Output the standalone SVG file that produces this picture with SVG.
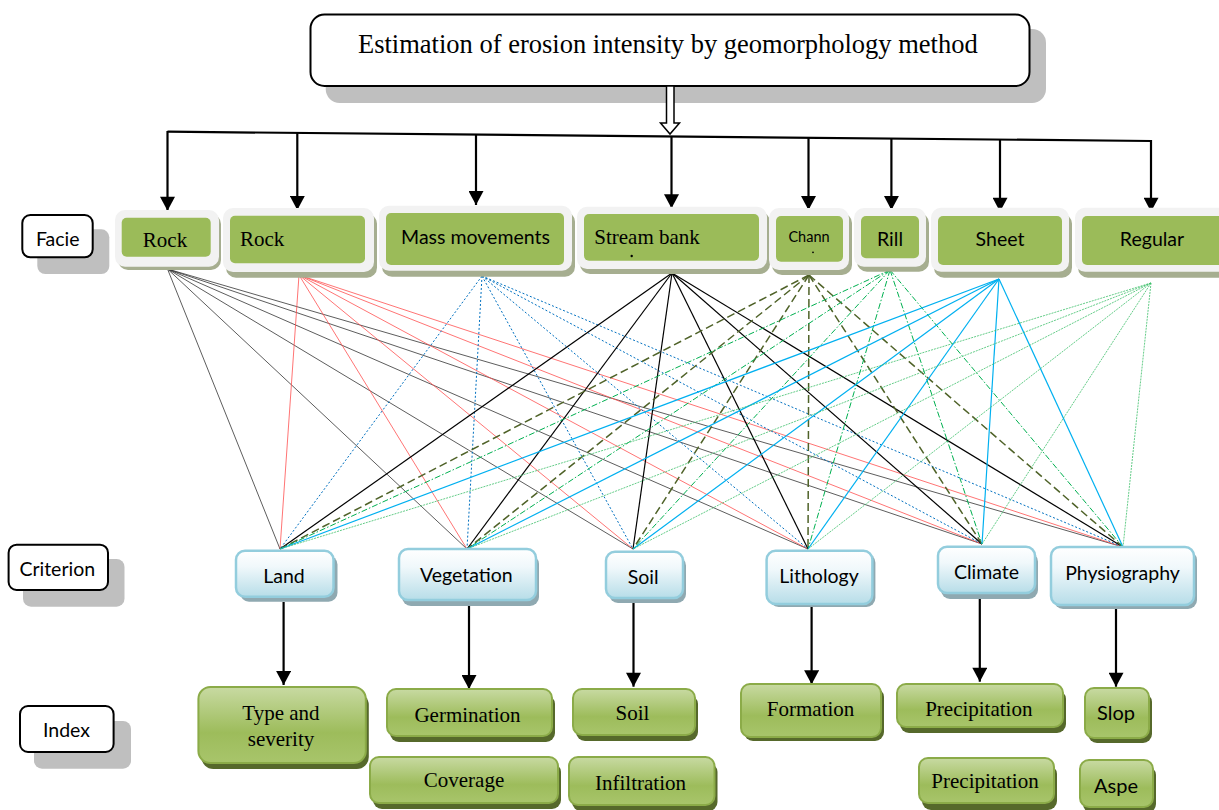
<svg xmlns="http://www.w3.org/2000/svg" width="1219" height="810" viewBox="0 0 1219 810">
<defs>
<linearGradient id="gBlue" x1="0" y1="0" x2="0" y2="1">
<stop offset="0" stop-color="#ffffff"/><stop offset="0.35" stop-color="#f0f8fb"/><stop offset="1" stop-color="#b7dde8"/>
</linearGradient>
<linearGradient id="gGreen" x1="0" y1="0" x2="0" y2="1">
<stop offset="0" stop-color="#c8daa2"/><stop offset="0.6" stop-color="#9dbc5b"/><stop offset="1" stop-color="#a8c56b"/>
</linearGradient>
<marker id="ah" markerWidth="16" markerHeight="15" viewBox="0 0 15 16" refX="15" refY="8" orient="auto" markerUnits="userSpaceOnUse">
<path d="M0,0 L15,8 L0,16 z" fill="#000"/>
</marker>
<style>
.lbl{fill:#fff;stroke:#000;stroke-width:2}
.lsh{fill:#bfbfbf}
.fo{fill:#f2f2f2}
.fsh{fill:#a6ae90}
.fi{fill:#9bbb59}
.cr{fill:url(#gBlue);stroke:#93cddd;stroke-width:2.5}
.csh{fill:#8fa9b1}
.ix{fill:url(#gGreen);stroke:#8bab48;stroke-width:2}
.ish{fill:#56692b}
.serif{font-family:"Liberation Serif","Times New Roman",serif;fill:#000}
.sans{font-family:Lato,"Liberation Sans",sans-serif;fill:#000}
.arr{stroke:#000;stroke-width:2.2;fill:none;marker-end:url(#ah)}
.l1{stroke:#333;stroke-width:0.8}
.l2{stroke:#ff5050;stroke-width:0.8}
.l3{stroke:#0070c0;stroke-width:1;stroke-dasharray:2 2}
.l4{stroke:#000;stroke-width:1.2}
.l5{stroke:#4f6228;stroke-width:1.5;stroke-dasharray:8 4}
.l6{stroke:#00b050;stroke-width:1;stroke-dasharray:6 2 1.5 2}
.l7{stroke:#00b0f0;stroke-width:1.2}
.l8{stroke:#3cbf6a;stroke-width:0.8;stroke-dasharray:2 1}
</style>
</defs>

<!-- Title -->
<g id="title">
<rect x="325.7" y="29" width="720.3" height="74" rx="14" fill="#bfbfbf"/>
<rect x="310.5" y="14.5" width="719" height="71.5" rx="14" fill="#fff" stroke="#000" stroke-width="2"/>
<text x="358" y="52.7" class="serif" font-size="26.5">Estimation of erosion intensity by geomorphology method</text>
</g>

<!-- Row labels -->
<g id="label-facie">
<rect class="lsh" x="37.3" y="229.3" width="72" height="44.7" rx="8"/>
<rect class="lbl" x="22.3" y="215" width="70.4" height="42.3" rx="8"/>
<text class="sans" x="57.7" y="245.7" font-size="19.5" text-anchor="middle">Facie</text>
</g>
<g id="label-criterion">
<rect class="lsh" x="23" y="559" width="101.5" height="47.7" rx="8"/>
<rect class="lbl" x="8.6" y="544.7" width="99.4" height="45.3" rx="8"/>
<text class="sans" x="57.3" y="575.7" font-size="19.5" text-anchor="middle">Criterion</text>
</g>
<g id="label-index">
<rect class="lsh" x="34" y="721" width="97" height="47.7" rx="8"/>
<rect class="lbl" x="20" y="706" width="93.6" height="46" rx="8"/>
<text class="sans" x="66.5" y="737.3" font-size="19.5" text-anchor="middle">Index</text>
</g>

<!-- Connectors -->
<g id="connectors" fill="none">
<path d="M167.5,131.7 L1151,141" stroke="#000" stroke-width="2.2"/>
<path d="M666.5,86 L674,86 L674,123 L679.5,123 L670,134 L660.5,123 L666.5,123 Z" fill="#fff" stroke="#000" stroke-width="1.5"/>
<line class="arr" x1="167.5" y1="131" x2="167.5" y2="210.7"/>
<line class="arr" x1="297.3" y1="132.9" x2="297.3" y2="210"/>
<line class="arr" x1="476" y1="134.6" x2="476" y2="205"/>
<line class="arr" x1="671.5" y1="136.5" x2="671.5" y2="208.3"/>
<line class="arr" x1="808.5" y1="137.8" x2="808.5" y2="210"/>
<line class="arr" x1="891.4" y1="138.5" x2="891.4" y2="210"/>
<line class="arr" x1="1000" y1="139.6" x2="1000" y2="211.7"/>
<line class="arr" x1="1151" y1="140" x2="1151" y2="211.7"/>

<g class="l1">
<line x1="167.5" y1="269" x2="280" y2="549"/><line x1="167.5" y1="269" x2="467" y2="549"/><line x1="167.5" y1="269" x2="633" y2="549"/><line x1="167.5" y1="269" x2="808" y2="549"/><line x1="167.5" y1="269" x2="982" y2="544"/><line x1="167.5" y1="269" x2="1123" y2="547"/>
</g>
<g class="l2">
<line x1="299" y1="275" x2="280" y2="549"/><line x1="299" y1="275" x2="467" y2="549"/><line x1="299" y1="275" x2="633" y2="549"/><line x1="299" y1="275" x2="808" y2="549"/><line x1="299" y1="275" x2="982" y2="544"/><line x1="299" y1="275" x2="1123" y2="547"/>
</g>
<g class="l3">
<line x1="482" y1="276" x2="280" y2="549"/><line x1="482" y1="276" x2="467" y2="549"/><line x1="482" y1="276" x2="633" y2="549"/><line x1="482" y1="276" x2="808" y2="549"/><line x1="482" y1="276" x2="982" y2="544"/><line x1="482" y1="276" x2="1123" y2="547"/>
</g>
<g class="l4">
<line x1="672" y1="273" x2="280" y2="549"/><line x1="672" y1="273" x2="467" y2="549"/><line x1="672" y1="273" x2="633" y2="549"/><line x1="672" y1="273" x2="808" y2="549"/><line x1="672" y1="273" x2="982" y2="544"/><line x1="672" y1="273" x2="1123" y2="547"/>
</g>
<g class="l5">
<line x1="809" y1="275" x2="280" y2="549"/><line x1="809" y1="275" x2="467" y2="549"/><line x1="809" y1="275" x2="633" y2="549"/><line x1="809" y1="275" x2="808" y2="549"/><line x1="809" y1="275" x2="982" y2="544"/><line x1="809" y1="275" x2="1123" y2="547"/>
</g>
<g class="l6">
<line x1="890" y1="270" x2="280" y2="549"/><line x1="890" y1="270" x2="467" y2="549"/><line x1="890" y1="270" x2="633" y2="549"/><line x1="890" y1="270" x2="808" y2="549"/><line x1="890" y1="270" x2="982" y2="544"/><line x1="890" y1="270" x2="1123" y2="547"/>
</g>
<g class="l7">
<line x1="999" y1="279" x2="280" y2="549"/><line x1="999" y1="279" x2="467" y2="549"/><line x1="999" y1="279" x2="633" y2="549"/><line x1="999" y1="279" x2="808" y2="549"/><line x1="999" y1="279" x2="982" y2="544"/><line x1="999" y1="279" x2="1123" y2="547"/>
</g>
<g class="l8">
<line x1="1151" y1="283" x2="280" y2="549"/><line x1="1151" y1="283" x2="467" y2="549"/><line x1="1151" y1="283" x2="633" y2="549"/><line x1="1151" y1="283" x2="808" y2="549"/><line x1="1151" y1="283" x2="982" y2="544"/><line x1="1151" y1="283" x2="1123" y2="547"/>
</g>

<line class="arr" x1="283.6" y1="602" x2="283.6" y2="685"/>
<line class="arr" x1="469" y1="606" x2="469" y2="689"/>
<line class="arr" x1="633.5" y1="603" x2="633.5" y2="686.7"/>
<line class="arr" x1="811.6" y1="607" x2="811.6" y2="684.3"/>
<line class="arr" x1="979.8" y1="598" x2="979.8" y2="681.7"/>
<line class="arr" x1="1116" y1="604" x2="1116" y2="686.7"/>
</g>

<!-- Facie nodes -->
<g id="facie-rock1">
<rect class="fsh" x="118" y="214" width="103" height="56" rx="10"/>
<rect class="fo" x="115" y="210" width="104" height="56.7" rx="10"/>
<rect class="fi" x="121.7" y="217.7" width="89" height="39" rx="5"/>
<text class="serif" x="165" y="246.7" font-size="21" text-anchor="middle">Rock</text>
</g>
<g id="facie-rock2">
<rect class="fsh" x="226" y="213.7" width="151" height="64" rx="10"/>
<rect class="fo" x="223" y="208" width="151" height="64" rx="10"/>
<rect class="fi" x="230" y="215.7" width="135" height="47.6" rx="5"/>
<text class="serif" x="240" y="245.7" font-size="21">Rock</text>
</g>
<g id="facie-mass">
<rect class="fsh" x="382" y="211.7" width="193" height="65" rx="10"/>
<rect class="fo" x="379" y="205.7" width="193" height="65" rx="10"/>
<rect class="fi" x="386" y="213" width="178" height="52" rx="5"/>
<text class="sans" x="475.5" y="244.3" font-size="19.5" text-anchor="middle">Mass movements</text>
</g>
<g id="facie-stream">
<rect class="fsh" x="580" y="211.7" width="190" height="62.3" rx="10"/>
<rect class="fo" x="577" y="206.7" width="190" height="62.3" rx="10"/>
<rect class="fi" x="584" y="214" width="175" height="46.7" rx="5"/>
<text class="serif" x="594.3" y="244" font-size="21">Stream bank</text>
<circle cx="631.7" cy="256" r="1.2" fill="#000"/>
</g>
<g id="facie-chann">
<rect class="fsh" x="772" y="213" width="80" height="62" rx="10"/>
<rect class="fo" x="769" y="208" width="80" height="62" rx="10"/>
<rect class="fi" x="776" y="216" width="67" height="45.7" rx="5"/>
<text class="sans" x="809" y="241.7" font-size="14.5" text-anchor="middle">Chann</text>
<circle cx="813" cy="252.3" r="0.9" fill="#000"/>
</g>
<g id="facie-rill">
<rect class="fsh" x="857" y="213" width="72" height="58.7" rx="10"/>
<rect class="fo" x="854" y="208" width="72" height="58.7" rx="10"/>
<rect class="fi" x="861" y="216" width="58" height="42.3" rx="5"/>
<text class="sans" x="890" y="245.7" font-size="19.5" text-anchor="middle">Rill</text>
</g>
<g id="facie-sheet">
<rect class="fsh" x="934" y="213.7" width="138" height="64" rx="10"/>
<rect class="fo" x="931" y="207.7" width="138" height="64" rx="10"/>
<rect class="fi" x="938" y="216" width="124" height="49" rx="5"/>
<text class="sans" x="1000" y="245.7" font-size="19.5" text-anchor="middle">Sheet</text>
</g>
<g id="facie-regular">
<rect class="fsh" x="1078" y="213.7" width="160" height="64" rx="10"/>
<rect class="fo" x="1075" y="207.7" width="160" height="64" rx="10"/>
<rect class="fi" x="1082" y="216" width="150" height="49" rx="5"/>
<text class="sans" x="1152" y="245.7" font-size="19.5" text-anchor="middle">Regular</text>
</g>

<!-- Criterion nodes -->
<g id="crit-land">
<rect class="csh" x="240" y="555.7" width="97.5" height="46" rx="9"/>
<rect class="cr" x="236" y="550.7" width="97.5" height="46" rx="9"/>
<text class="sans" x="284" y="582.7" font-size="19.5" text-anchor="middle">Land</text>
</g>
<g id="crit-vegetation">
<rect class="csh" x="402" y="555" width="137" height="51" rx="9"/>
<rect class="cr" x="399" y="549" width="137" height="51" rx="9"/>
<text class="sans" x="466.3" y="581.7" font-size="19.5" text-anchor="middle">Vegetation</text>
</g>
<g id="crit-soil">
<rect class="csh" x="609" y="556.7" width="77" height="46.3" rx="9"/>
<rect class="cr" x="606" y="551.7" width="77" height="46.3" rx="9"/>
<text class="sans" x="643.2" y="584" font-size="19.5" text-anchor="middle">Soil</text>
</g>
<g id="crit-lithology">
<rect class="csh" x="769.6" y="553.7" width="105.8" height="53.3" rx="9"/>
<rect class="cr" x="766.6" y="550.7" width="105.8" height="53.3" rx="9"/>
<text class="sans" x="819" y="583.3" font-size="19.5" text-anchor="middle">Lithology</text>
</g>
<g id="crit-climate">
<rect class="csh" x="941" y="552.7" width="97" height="46.3" rx="9"/>
<rect class="cr" x="938" y="546.7" width="97" height="46.3" rx="9"/>
<text class="sans" x="986.5" y="579.3" font-size="19.5" text-anchor="middle">Climate</text>
</g>
<g id="crit-physiography">
<rect class="csh" x="1054" y="551" width="143" height="58" rx="9"/>
<rect class="cr" x="1051" y="547" width="143" height="58" rx="9"/>
<text class="sans" x="1122.5" y="580" font-size="19.5" text-anchor="middle">Physiography</text>
</g>

<!-- Index nodes -->
<g id="idx-type">
<rect class="ish" x="201.4" y="693" width="167.4" height="76" rx="12"/>
<rect class="ix" x="198.4" y="687" width="167.4" height="76" rx="12"/>
<text class="serif" x="281" y="720" font-size="21" text-anchor="middle">Type and</text>
<text class="serif" x="281" y="746" font-size="21" text-anchor="middle">severity</text>
</g>
<g id="idx-germination">
<rect class="ish" x="390" y="695" width="165" height="47" rx="9"/>
<rect class="ix" x="387" y="689" width="165" height="47" rx="9"/>
<text class="serif" x="467.5" y="721.7" font-size="21" text-anchor="middle">Germination</text>
</g>
<g id="idx-coverage">
<rect class="ish" x="373" y="763" width="188" height="46" rx="9"/>
<rect class="ix" x="370" y="757" width="188" height="46" rx="9"/>
<text class="serif" x="464" y="786.7" font-size="21" text-anchor="middle">Coverage</text>
</g>
<g id="idx-soil">
<rect class="ish" x="576" y="695" width="122" height="46" rx="9"/>
<rect class="ix" x="573" y="689" width="122" height="46" rx="9"/>
<text class="serif" x="632.5" y="720" font-size="21" text-anchor="middle">Soil</text>
</g>
<g id="idx-infiltration">
<rect class="ish" x="572" y="763" width="145.5" height="48" rx="9"/>
<rect class="ix" x="569" y="757" width="145.5" height="48" rx="9"/>
<text class="serif" x="640.5" y="790" font-size="21" text-anchor="middle">Infiltration</text>
</g>
<g id="idx-formation">
<rect class="ish" x="744" y="688" width="140" height="53" rx="9"/>
<rect class="ix" x="741" y="684" width="140" height="53" rx="9"/>
<text class="serif" x="810.6" y="716" font-size="21" text-anchor="middle">Formation</text>
</g>
<g id="idx-precipitation1">
<rect class="ish" x="900" y="690" width="166" height="43" rx="9"/>
<rect class="ix" x="897" y="684" width="166" height="43" rx="9"/>
<text class="serif" x="978.8" y="716" font-size="21" text-anchor="middle">Precipitation</text>
</g>
<g id="idx-precipitation2">
<rect class="ish" x="922" y="765" width="135" height="45" rx="9"/>
<rect class="ix" x="919" y="758" width="135" height="45" rx="9"/>
<text class="serif" x="985" y="788.3" font-size="21" text-anchor="middle">Precipitation</text>
</g>
<g id="idx-slop">
<rect class="ish" x="1088" y="693" width="64" height="50" rx="9"/>
<rect class="ix" x="1085" y="688" width="64" height="50" rx="9"/>
<text class="sans" x="1116" y="720" font-size="20" text-anchor="middle">Slop</text>
</g>
<g id="idx-aspe">
<rect class="ish" x="1083" y="766" width="73" height="47" rx="9"/>
<rect class="ix" x="1080" y="760" width="73" height="47" rx="9"/>
<text class="sans" x="1116" y="793.3" font-size="20" text-anchor="middle">Aspe</text>
</g>
</svg>
